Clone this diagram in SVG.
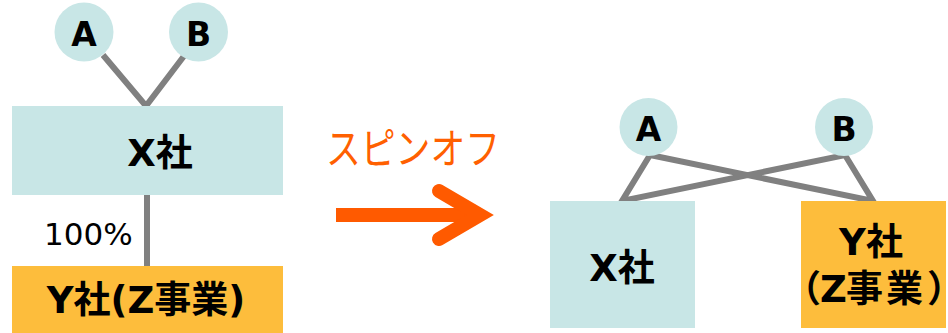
<svg xmlns="http://www.w3.org/2000/svg" width="948" height="333" viewBox="0 0 948 333">
<style>
.teal{fill:#c8e6e6}
.gold{fill:#fdbd3c}
.lbl{font-family:"DejaVu Sans","Noto Sans CJK JP",sans-serif;font-weight:bold;fill:#000;text-anchor:middle;font-size:37px}
.ltr{font-size:33px}
.con{stroke:#808080;stroke-width:6;fill:none}
</style>
<rect width="948" height="333" fill="#fff"/>
<g id="connectors">
<polyline class="con" points="103,55 146,106 184,56"/>
<line class="con" x1="147" y1="195" x2="147" y2="266"/>
<polyline class="con" points="650,155 622,201 845,155 873,201 650,155"/>
</g>
<g id="left-A"><circle class="teal" cx="84" cy="32" r="29.5"/><text class="lbl ltr" x="84" y="46">A</text></g>
<g id="left-B"><circle class="teal" cx="198.5" cy="32" r="29.5"/><text class="lbl ltr" x="198.5" y="46">B</text></g>
<g id="left-X"><rect class="teal" x="12" y="106" width="271" height="89"/><text class="lbl" x="160" y="166">X社</text></g>
<text x="44" y="245" font-family="DejaVu Sans,sans-serif" font-size="31" fill="#000">100%</text>
<g id="left-Y"><rect class="gold" x="12" y="266" width="271" height="67"/><text class="lbl" x="146" y="313">Y社(Z事業)</text></g>
<g id="spinoff">
<text x="326" y="164" font-family="Noto Sans CJK JP,sans-serif" font-size="42" fill="#ff6000" textLength="174" lengthAdjust="spacingAndGlyphs">スピンオフ</text>
<line x1="336" y1="215" x2="470" y2="215" stroke="#ff5a00" stroke-width="14"/>
<polyline points="439,191 480,215 439,239" fill="none" stroke="#ff5a00" stroke-width="14" stroke-linecap="round" stroke-linejoin="miter"/>
</g>
<g id="right-A"><circle class="teal" cx="648.5" cy="127" r="29"/><text class="lbl ltr" x="648.5" y="141">A</text></g>
<g id="right-B"><circle class="teal" cx="844" cy="127" r="29"/><text class="lbl ltr" x="844" y="141">B</text></g>
<g id="right-X"><rect class="teal" x="550" y="201" width="145" height="127"/><text class="lbl" x="622" y="281">X社</text></g>
<g id="right-Y"><rect class="gold" x="801" y="201" width="145" height="127"/><text class="lbl" x="871" y="255">Y社</text><text class="lbl" style="text-anchor:start" x="784 820 846 886 927" y="302" letter-spacing="-26">（Z事業）</text></g>
</svg>
